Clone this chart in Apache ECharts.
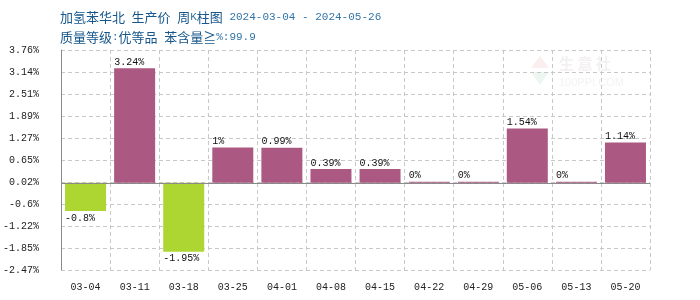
<!DOCTYPE html>
<html>
<head>
<meta charset="utf-8">
<script src="https://cdn.jsdelivr.net/npm/echarts@6/dist/echarts.min.js"></script>
<style>
  html, body { margin: 0; padding: 0; background: #fff; }
  #main { width: 700px; height: 300px; }
</style>
</head>
<body>
<div id="main"></div>
<script>
// 周期与涨跌幅
var weeks = ["03-04", "03-11", "03-18", "03-25", "04-01", "04-08", "04-15", "04-22", "04-29", "05-06", "05-13", "05-20"];
var changes = [-0.8, 3.24, -1.95, 1, 0.99, 0.39, 0.39, 0, 0, 1.54, 0, 1.14];
// y轴刻度范围
var yMin = -2.47;
var yMax = 3.76;

var monoFont = "'Liberation Mono', 'DejaVu Sans Mono', monospace";
var cjkFont = "'Noto Sans CJK SC', sans-serif";

var chart = echarts.init(document.getElementById("main"), null, { renderer: "canvas" });

var barData = changes.map(function (v) {
  var up = v >= 0;
  return {
    value: v,
    itemStyle: { color: up ? "#ab5882" : "#add633" },
    label: {
      position: up ? "top" : "bottom",
      distance: up ? 1 : 2
    }
  };
});

option = {
  animation: false,
  title: {
    left: 60,
    top: 7,
    padding: 0,
    text: "{t|加氢苯华北}{d| }{t|生产价}{d| }{t|周}{d|K}{t|柱图}{d| 2024-03-04 - 2024-05-26}\n{t|质量等级}{d|:}{t|优等品}{d| }{t|苯含量≧}{d|%:99.9}",
    textStyle: {
      lineHeight: 20,
      fontWeight: "normal",
      rich: {
        t: { fontFamily: cjkFont, fontSize: 13, fontWeight: "normal", color: "#16568a", lineHeight: 20 },
        d: { fontFamily: monoFont, fontSize: 11, fontWeight: "normal", color: "#3274a6", lineHeight: 20 }
      }
    }
  },
  graphic: [
    {
      type: "text",
      left: 559,
      top: 56,
      silent: true,
      style: { text: "生 意 社", fontFamily: cjkFont, fontSize: 15, fontWeight: "bold", fill: "#f3f0f0" }
    },
    {
      type: "text",
      left: 559,
      top: 77,
      silent: true,
      style: { text: "100PPI.COM", fontFamily: "Arial, sans-serif", fontSize: 11, fill: "#f3f3f3" }
    },
    {
      type: "polygon",
      silent: true,
      shape: { points: [[540, 56], [549, 68], [531, 68]] },
      style: { fill: "#fbeeee" }
    },
    {
      type: "polygon",
      silent: true,
      shape: { points: [[531, 72], [549, 72], [540, 85]] },
      style: { fill: "#edf6f0" }
    }
  ],
  grid: { left: 61, right: 50, top: 50, bottom: 30, containLabel: false },
  xAxis: {
    type: "category",
    data: weeks,
    axisLine: { show: false, onZero: false },
    axisTick: { show: false },
    splitLine: { show: true, lineStyle: { type: [4, 3], color: "#c8c8c8" } },
    axisLabel: { fontFamily: monoFont, fontSize: 10, color: "#222", margin: 12, interval: 0 }
  },
  yAxis: {
    type: "value",
    min: yMin,
    max: yMax,
    interval: (yMax - yMin) / 10,
    axisLine: { show: true, lineStyle: { color: "#8a8a8a" } },
    axisTick: { show: false },
    splitLine: { lineStyle: { type: [4, 3], color: "#c8c8c8" } },
    axisLabel: {
      fontFamily: monoFont,
      fontSize: 10,
      color: "#222",
      margin: 22,
      formatter: function (v) {
        return Math.round(v * 100 + 1e-6) / 100 + "%";
      }
    }
  },
  series: [
    {
      type: "bar",
      data: barData,
      barWidth: 41,
      barMinHeight: 1,
      label: {
        show: true,
        align: "left",
        offset: [-20.5, 0],
        fontFamily: monoFont,
        fontSize: 10,
        color: "#111",
        formatter: function (p) { return p.value + "%"; }
      },
      markLine: {
        silent: true,
        symbol: "none",
        label: { show: false },
        lineStyle: { color: "#8a8a8a", type: "solid", width: 1 },
        data: [{ yAxis: 0 }]
      }
    }
  ]
};
chart.setOption(option);
</script>
</body>
</html>
